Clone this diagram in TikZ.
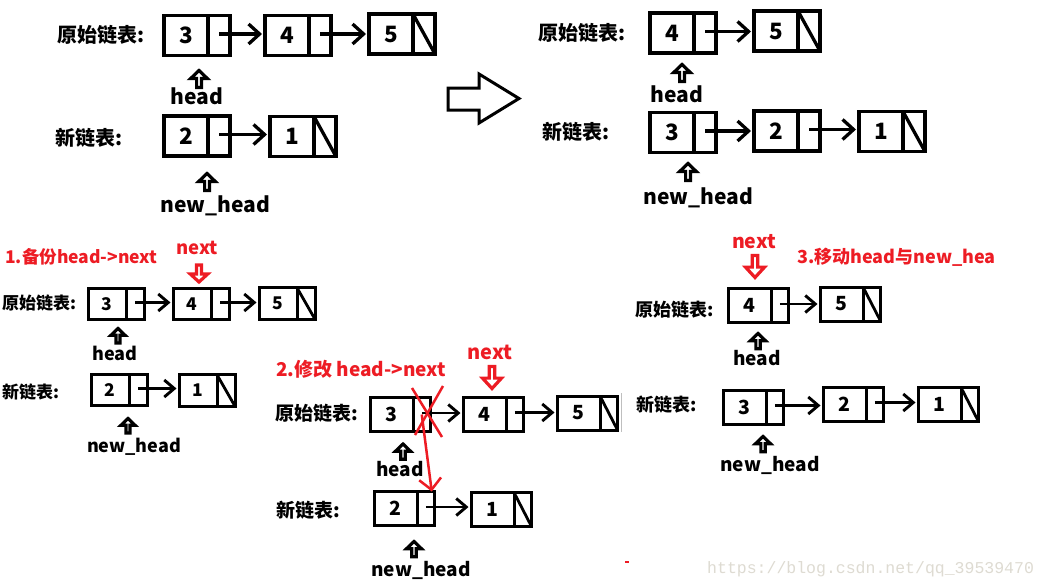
\documentclass[tikz,border=0pt]{standalone}
\usepackage{fontspec}
\setmainfont{Noto Sans CJK SC}
\newfontfamily\wmfont{Liberation Mono}
\usetikzlibrary{arrows.meta,calc}
\definecolor{pred}{RGB}{237,28,36}
\definecolor{wm}{RGB}{222,219,210}
\newcommand\fsz[1]{\fontsize{#1}{#1}\selectfont}
% #1 name, #2 size type, #3 x (left), #4 y (centre), #5 value
\newcommand\llnode[5]{%
  \node[val#2, anchor=west] (#1) at (#3,#4) {#5};
  \node[ptr#2, anchor=west] (#1p) at (#1.east) {};}
\newcommand\nul[2]{\draw[line width=#2, line cap=butt] (#1p.north west) -- (#1p.south east);}
\newcommand\lnk[3]{%
  \coordinate (#2s) at ([yshift=1.5pt]#2p.center);
  \draw[#1] (#2s) -- (#2s -| #3.west);}
\begin{document}
\begin{tikzpicture}[x=1pt,y=-1pt,
  cell/.style={draw, outer sep=0pt, inner sep=0pt, line join=miter, font=\bfseries},
  valA/.style={cell, line width=3.5pt, minimum width=44pt, minimum height=40pt, font=\bfseries\fsz{22.5}},
  ptrA/.style={cell, line width=3.5pt, minimum width=22pt, minimum height=40pt},
  valB/.style={cell, line width=3pt, minimum width=37.5pt, minimum height=31.5pt, font=\bfseries\fsz{17.5}},
  ptrB/.style={cell, line width=3pt, minimum width=18pt, minimum height=31.5pt},
  valC/.style={cell, line width=3pt, minimum width=42.5pt, minimum height=34pt, font=\bfseries\fsz{19.5}},
  ptrC/.style={cell, line width=3pt, minimum width=17.5pt, minimum height=34pt},
  linkA/.style={line width=3.3pt, -{Straight Barb[length=11pt,width=20pt]}, shorten >=3pt},
  linkB/.style={line width=2.9pt, -{Straight Barb[length=10pt,width=17pt]}, shorten >=3pt},
  lab/.style={font=\bfseries\fsz{#1}, inner sep=0pt},
  rlab/.style={font=\bfseries\fsz{#1}, inner sep=0pt, text=pred},
  hollow/.pic={\draw[line width=3.2pt, line join=miter] (0,0) -- (8.3,8) -- (2.4,8) -- (2.4,17) -- (-2.4,17) -- (-2.4,8) -- (-8.3,8) -- cycle;},
]
\useasboundingbox (0,0) rectangle (1048,587);
\fill[white] (0,0) rectangle (1048,587);

% ---------- panel 1 ----------
\node[lab=20, anchor=west] (t1o) at (57,35) {原始链表:};
\node[lab=20, anchor=west] (t1n) at (55,138) {新链表:};
\llnode{aO3}{A}{164}{35.5}{3}
\llnode{aO4}{A}{265}{35.5}{4}
\llnode{aO5}{A}{369}{34}{5}
\nul{aO5}{3.3pt}
\llnode{aN2}{A}{164}{136}{2}
\llnode{aN1}{A}{270}{136.5}{1}
\nul{aN1}{3.3pt}
\lnk{linkA}{aO3}{aO4}
\lnk{linkA}{aO4}{aO5}
\lnk{linkA}{aN2}{aN1}
\pic at (199,70.5) {hollow};
\node[lab=21, anchor=base] (h1) at (197,104) {head};
\pic at (207,173.5) {hollow};
\node[lab=21, anchor=base] (nh1) at (215,212) {new\_head};

% big hollow arrow
\draw[line width=3pt, line join=miter] (448,88) -- (479,88) -- (479,74) -- (519,98.5) -- (479,123) -- (479,110) -- (448,110) -- cycle;

% ---------- panel 2 ----------
\node[lab=20, anchor=west] (t2o) at (538,33) {原始链表:};
\node[lab=20, anchor=west] (t2n) at (542,132) {新链表:};
\llnode{bO4}{A}{650}{33}{4}
\llnode{bO5}{A}{754}{31}{5}
\nul{bO5}{3.3pt}
\llnode{bN3}{A}{650}{132.5}{3}
\llnode{bN2}{A}{754}{131}{2}
\llnode{bN1}{A}{859}{131.5}{1}
\nul{bN1}{3.3pt}
\lnk{linkA}{bO4}{bO5}
\lnk{linkA}{bN3}{bN2}
\lnk{linkA}{bN2}{bN1}
\pic at (682,64.5) {hollow};
\node[lab=21, anchor=base] (h2) at (677,102) {head};
\pic at (688,163.5) {hollow};
\node[lab=21, anchor=base] (nh2) at (698,204) {new\_head};

% ---------- panel 3 ----------
\node[rlab=17.5, anchor=base west] (s1) at (5,263) {1.备份head->next};
\node[rlab=18.5, anchor=base] (x3) at (197,254) {next};
\pic[pred, rotate=180, xscale=1.05] at (199,282) {hollow};
\node[lab=17, anchor=west] (t3o) at (2,303) {原始链表:};
\node[lab=17, anchor=west] (t3n) at (2,392) {新链表:};
\llnode{cO3}{B}{88.5}{304}{3}
\llnode{cO4}{B}{173.5}{304}{4}
\llnode{cO5}{B}{259.5}{303.5}{5}
\nul{cO5}{2.8pt}
\llnode{cN2}{B}{91.5}{390}{2}
\llnode{cN1}{B}{179.5}{390.5}{1}
\nul{cN1}{2.8pt}
\lnk{linkB}{cO3}{cO4}
\lnk{linkB}{cO4}{cO5}
\lnk{linkB}{cN2}{cN1}
\pic[scale=0.85] at (118,328.5) {hollow};
\node[lab=18, anchor=base] (h3) at (115,360) {head};
\pic[scale=0.85] at (128,418.5) {hollow};
\node[lab=18, anchor=base] (nh3) at (134,452.7) {new\_head};

% ---------- panel 4 ----------
\node[rlab=19, anchor=base west] (s2) at (276,376) {2.修改 head->next};
\node[rlab=20, anchor=base] (x4) at (490,359.3) {next};
\pic[pred, rotate=180, xscale=1.15, yscale=1.3] at (492,388.5) {hollow};
\node[lab=19, anchor=west] (t4o) at (275,413) {原始链表:};
\node[lab=19, anchor=west] (t4n) at (276,510) {新链表:};
\llnode{dO3}{C}{370.5}{414.5}{3}
\llnode{dO4}{C}{463.5}{414}{4}
\llnode{dO5}{C}{557.5}{413}{5}
\nul{dO5}{2.8pt}
\llnode{dN2}{C}{374.5}{508.5}{2}
\llnode{dN1}{C}{471.5}{509.5}{1}
\nul{dN1}{2.8pt}
\lnk{linkB}{dO3}{dO4}
\lnk{linkB}{dO4}{dO5}
\lnk{linkB}{dN2}{dN1}
\pic[scale=0.9] at (403,444) {hollow};
\node[lab=19, anchor=base] (h4) at (400,476) {head};
\pic[scale=0.9] at (414,541.5) {hollow};
\node[lab=19, anchor=base] (nh4) at (421,576) {new\_head};
% red cross and redirected pointer
\draw[pred, line width=2.5pt] (412,388) -- (442,437);
\draw[pred, line width=2.5pt] (443,386) -- (415,435);
\draw[pred, line width=2.5pt, -{Straight Barb[length=11pt,width=22pt]}] (dO3p.center) -- ([xshift=6pt]dN2p.north);
\draw[pred, line width=1.5pt] (625,562) -- (629,562);

% ---------- panel 5 ----------
\node[rlab=19.5, anchor=base] (x5) at (754,248.3) {next};
\pic[pred, rotate=180, xscale=1.15, yscale=1.3] at (755,277.5) {hollow};
\node[rlab=18, anchor=base west] (s3) at (797,263.3) {3.移动head与new\_hea};
\node[lab=18, anchor=west] (t5o) at (635,310) {原始链表:};
\node[lab=18, anchor=west] (t5n) at (636,405) {新链表:};
\llnode{eO4}{C}{728.5}{305.5}{4}
\llnode{eO5}{C}{820.5}{304}{5}
\nul{eO5}{2.8pt}
\llnode{eN3}{C}{723.5}{407}{3}
\llnode{eN2}{C}{823.5}{404}{2}
\llnode{eN1}{C}{918.5}{404.5}{1}
\nul{eN1}{2.8pt}
\lnk{linkB}{eO4}{eO5}
\lnk{linkB}{eN3}{eN2}
\lnk{linkB}{eN2}{eN1}
\pic[scale=0.9] at (758,333.5) {hollow};
\node[lab=19, anchor=base] (h5) at (757,365) {head};
\pic[scale=0.9] at (763,436.5) {hollow};
\node[lab=19, anchor=base] (nh5) at (770,471.7) {new\_head};
\draw[black!25, line width=1pt] (621,393) -- (621,432);

% watermark
\node[font=\wmfont\fsz{16.5}, text=wm, anchor=base west, inner sep=0pt] (wmk) at (707,573) {https://blog.csdn.net/qq\_39539470};
\end{tikzpicture}
\end{document}
